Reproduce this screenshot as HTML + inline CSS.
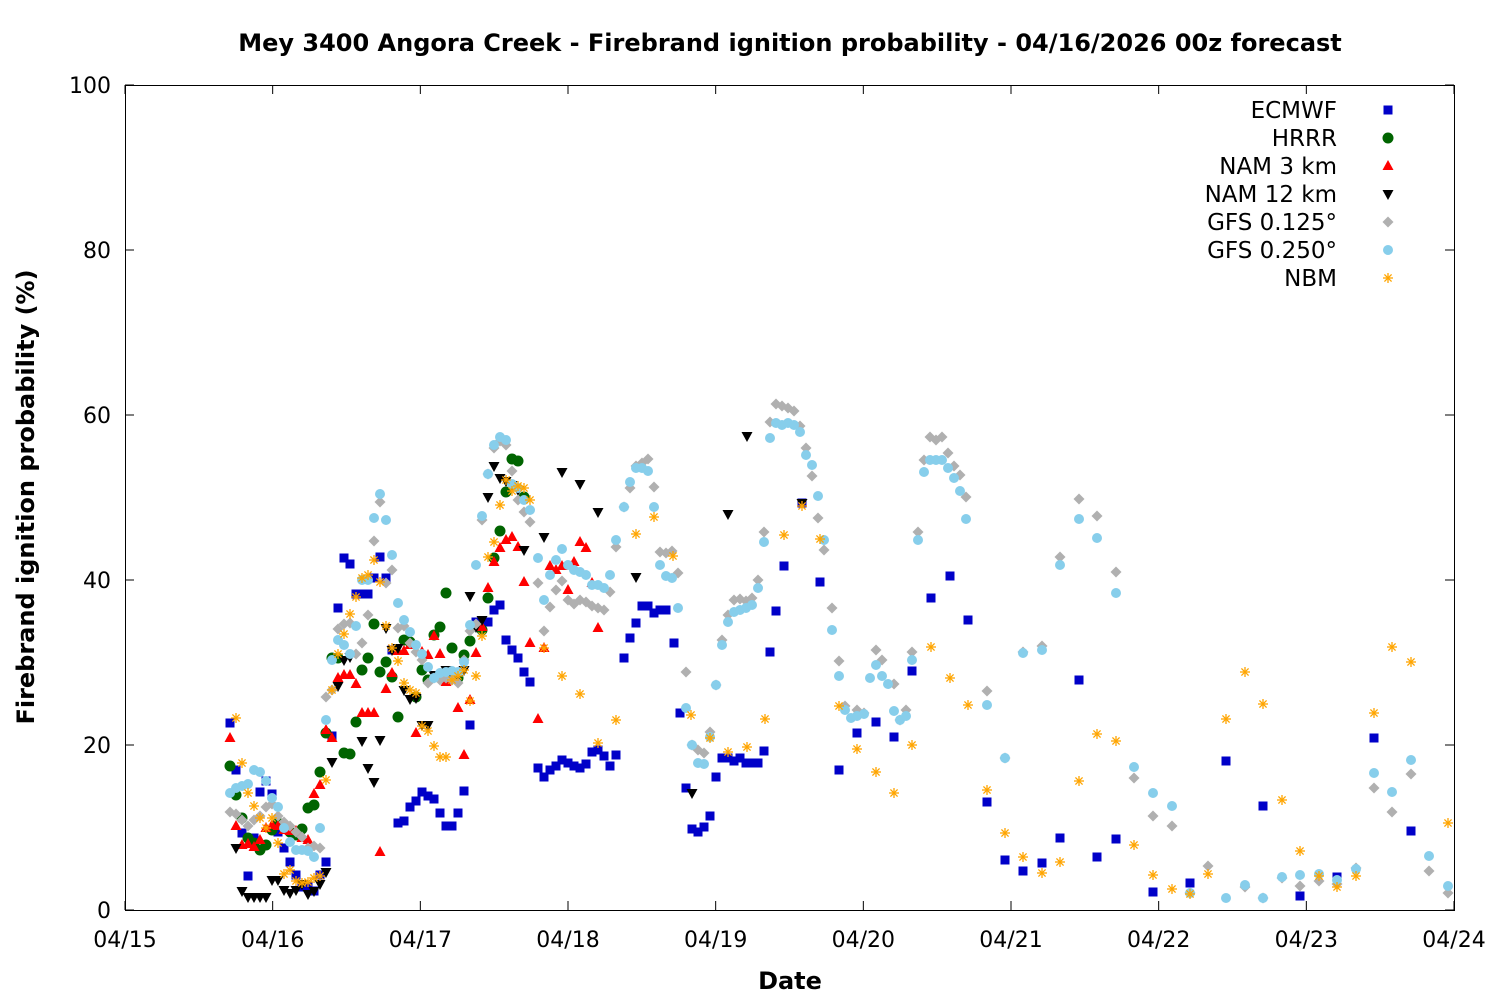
<!DOCTYPE html>
<html><head><meta charset="utf-8"><style>
html,body{margin:0;padding:0;background:#fff;}
svg{display:block;font-family:"Liberation Sans","DejaVu Sans",sans-serif;}
</style></head><body>
<svg id="s" width="1500" height="1000" xmlns="http://www.w3.org/2000/svg">
<rect width="1500" height="1000" fill="#fff"/>
<text x="790" y="51" text-anchor="middle" font-size="24" font-weight="bold" font-family="DejaVu Sans, sans-serif">Mey 3400 Angora Creek - Firebrand ignition probability - 04/16/2026 00z forecast</text>
<text x="790" y="989" text-anchor="middle" font-size="24" font-weight="bold" font-family="DejaVu Sans, sans-serif">Date</text>
<text transform="translate(34,497) rotate(-90)" text-anchor="middle" font-size="24" font-weight="bold" font-family="DejaVu Sans, sans-serif">Firebrand ignition probability (%)</text>
<g id="axes" stroke="#000" stroke-width="1" fill="none"></g>
<g id="labels" font-size="22" font-family="DejaVu Sans, sans-serif"></g>
<g id="pts"></g>
<g id="leg" font-size="23" font-family="DejaVu Sans, sans-serif"></g>
</svg>
<script>
const NS="http://www.w3.org/2000/svg";
function el(t,a,p){const e=document.createElementNS(NS,t);for(const k in a)e.setAttribute(k,a[k]);p.appendChild(e);return e;}
const ax=document.getElementById('axes'),lb=document.getElementById('labels'),pts=document.getElementById('pts'),leg=document.getElementById('leg');
const L=125,R=1454,T=85,B=910;
el('rect',{x:L+.5,y:T+.5,width:R-L,height:B-T},ax);
for(let i=0;i<=5;i++){const y=B-i*(B-T)/5;
 el('line',{x1:L,y1:y,x2:L+9,y2:y},ax);el('line',{x1:R,y1:y,x2:R-9,y2:y},ax);
 const t=el('text',{x:L-14,y:y+8,'text-anchor':'end'},lb);t.textContent=String(i*20);}
const days=['04/15','04/16','04/17','04/18','04/19','04/20','04/21','04/22','04/23','04/24'];
for(let i=0;i<10;i++){const x=L+i*(R-L)/9;
 el('line',{x1:x,y1:B,x2:x,y2:B-9},ax);el('line',{x1:x,y1:T,x2:x,y2:T+9},ax);
 const t=el('text',{x:x,y:947,'text-anchor':'middle'},lb);t.textContent=days[i];}
function P(s){return s.match(/\d+,\d+/g).map(v=>v.split(',').map(Number));}
const S={
ec:P("(230,723),(236,770),(242,833),(248,876),(254,838),(260,792),(266,781),(272,794),(278,832),(284,848),(290,862),(296,875),(302,887),(308,887),(314,891),(320,875),(326,862),(332,736),(338,608),(344,558),(350,564),(356,594),(362,594),(368,594),(374,578),(380,557),(386,578),(392,650),(398,823),(404,821),(410,807),(416,801),(422,792),(428,796),(434,799),(440,813),(446,826),(452,826),(458,813),(464,791),(470,725),(476,622),(482,622),(488,622),(494,610),(500,605),(506,640),(512,650),(518,658),(524,672),(530,682),(538,768),(544,777),(550,770),(556,766),(562,760),(568,763),(574,766),(580,768),(586,764),(592,752),(598,750),(604,756),(610,766),(616,755),(624,658),(630,638),(636,623),(642,606),(648,606),(654,613),(660,610),(666,610),(674,643),(680,713),(686,788),(692,829),(698,832),(704,827),(710,816),(716,777),(722,758),(728,758),(734,761),(740,758),(746,763),(752,763),(758,763),(764,751),(770,652),(776,611),(784,566),(802,503),(820,582),(839,770),(857,733),(876,722),(894,737),(912,671),(931,598),(950,576),(968,620),(987,802),(1005,860),(1023,871),(1042,863),(1060,838),(1079,680),(1097,857),(1116,839),(1153,892),(1190,883),(1226,761),(1263,806),(1300,896),(1337,877),(1374,738),(1411,831)"),
hr:P("(230,766),(236,795),(242,818),(248,838),(254,843),(260,850),(266,845),(272,830),(278,823),(284,826),(290,832),(296,835),(302,829),(308,808),(314,805),(320,772),(326,733),(332,658),(338,658),(344,753),(350,754),(356,722),(362,670),(368,658),(374,624),(380,672),(386,662),(392,677),(398,717),(404,640),(410,642),(416,697),(422,670),(428,680),(434,635),(440,627),(446,593),(452,648),(458,678),(464,655),(470,641),(476,626),(482,630),(488,598),(494,558),(500,531),(506,492),(512,459),(518,461),(524,497)"),
n3:P("(230,738),(236,826),(242,845),(248,844),(254,847),(260,840),(266,828),(272,825),(278,826),(284,830),(290,831),(296,831),(302,838),(308,840),(314,794),(320,785),(326,730),(332,738),(338,678),(344,675),(350,675),(356,684),(362,713),(368,713),(374,713),(380,852),(386,689),(392,673),(398,651),(404,651),(410,645),(416,733),(422,652),(428,655),(434,636),(440,654),(446,682),(452,680),(458,708),(464,755),(470,700),(476,653),(482,627),(488,588),(494,562),(500,548),(506,540),(512,537),(518,547),(524,582),(530,643),(538,719),(544,648),(550,566),(556,570),(562,566),(568,590),(574,562),(580,542),(586,548),(592,583),(598,628)"),
n12:P("(236,848),(242,891),(248,897),(254,897),(260,897),(266,897),(272,880),(278,880),(284,890),(290,893),(296,890),(302,884),(308,894),(314,891),(320,884),(326,872),(332,762),(338,686),(344,660),(350,657),(362,741),(368,768),(374,782),(380,740),(386,628),(392,650),(398,648),(404,690),(410,699),(416,698),(422,725),(428,725),(434,675),(440,676),(446,670),(452,675),(458,675),(464,670),(470,596),(476,627),(482,620),(488,497),(494,466),(500,478),(506,481),(512,485),(518,490),(524,550),(544,537),(562,472),(580,484),(598,512),(636,577),(692,793),(728,514),(747,436),(802,503)"),
g1:P("(230,812),(236,814),(242,820),(248,826),(254,820),(260,816),(266,807),(272,804),(278,816),(284,822),(290,826),(296,832),(302,837),(308,848),(314,846),(320,848),(326,697),(332,690),(338,629),(344,624),(350,623),(356,654),(362,643),(368,615),(374,541),(380,502),(386,583),(392,570),(398,628),(404,626),(410,643),(416,652),(422,660),(428,683),(434,678),(440,680),(446,678),(452,680),(458,683),(464,660),(470,631),(476,624),(482,520),(488,474),(494,448),(500,441),(506,445),(512,471),(518,500),(524,512),(530,522),(538,583),(544,631),(550,607),(556,590),(562,581),(568,600),(574,604),(580,600),(586,602),(592,606),(598,608),(604,610),(610,592),(616,547),(624,507),(630,488),(636,466),(642,463),(648,459),(654,487),(660,552),(666,553),(672,551),(678,573),(686,672),(692,745),(698,750),(704,753),(710,732),(716,685),(722,640),(728,615),(734,600),(740,599),(746,601),(752,598),(758,580),(764,532),(770,422),(776,404),(782,406),(788,408),(794,411),(800,426),(806,448),(812,476),(818,518),(824,550),(832,608),(839,661),(845,706),(857,710),(864,713),(876,650),(882,660),(894,684),(900,720),(906,710),(912,652),(918,532),(924,460),(930,437),(936,440),(942,437),(948,453),(954,466),(960,475),(966,497),(987,691),(1005,758),(1023,652),(1042,646),(1060,557),(1079,499),(1097,516),(1116,572),(1134,778),(1153,816),(1172,826),(1190,893),(1208,866),(1245,887),(1263,898),(1282,878),(1300,886),(1319,881),(1337,884),(1356,868),(1374,788),(1392,812),(1411,774),(1429,871),(1448,893)"),
g2:P("(230,793),(236,788),(242,786),(248,784),(254,770),(260,772),(266,781),(272,798),(278,807),(284,828),(290,842),(296,850),(302,850),(308,851),(314,857),(320,828),(326,720),(332,660),(338,640),(344,645),(350,654),(356,626),(362,580),(368,580),(374,518),(380,494),(386,520),(392,555),(398,603),(404,620),(410,632),(416,645),(422,654),(428,667),(434,678),(440,673),(446,672),(452,671),(458,672),(464,662),(470,625),(476,565),(482,516),(488,474),(494,445),(500,437),(506,440),(512,484),(518,488),(524,500),(530,510),(538,558),(544,600),(550,575),(556,560),(562,549),(568,565),(574,570),(580,572),(586,575),(592,585),(598,585),(604,588),(610,575),(616,540),(624,507),(630,482),(636,468),(642,468),(648,471),(654,507),(660,565),(666,576),(672,578),(678,608),(686,708),(692,745),(698,763),(704,764),(710,737),(716,685),(722,645),(728,622),(734,612),(740,610),(746,608),(752,605),(758,588),(764,542),(770,438),(776,423),(782,425),(788,423),(794,425),(800,432),(806,455),(812,465),(818,496),(824,540),(832,630),(839,676),(845,710),(851,718),(857,716),(864,714),(870,678),(876,665),(882,676),(888,684),(894,711),(900,720),(906,716),(912,660),(918,540),(924,472),(930,460),(936,460),(942,460),(948,468),(954,478),(960,491),(966,519),(987,705),(1005,758),(1023,653),(1042,650),(1060,565),(1079,519),(1097,538),(1116,593),(1134,767),(1153,793),(1172,806),(1190,893),(1226,898),(1245,885),(1263,898),(1282,877),(1300,875),(1319,874),(1337,880),(1356,869),(1374,773),(1392,792),(1411,760),(1429,856),(1448,886)"),
nb:P("(236,718),(242,763),(248,793),(254,806),(260,818),(266,828),(272,818),(278,843),(284,874),(290,870),(296,881),(302,883),(308,882),(314,878),(320,876),(326,780),(332,690),(338,654),(344,634),(350,614),(356,597),(362,578),(368,575),(374,560),(380,582),(386,626),(392,648),(398,661),(404,683),(410,690),(416,693),(422,726),(428,731),(434,746),(440,757),(446,757),(452,680),(458,676),(464,670),(470,701),(476,676),(482,636),(488,557),(494,542),(500,505),(506,480),(512,491),(518,486),(524,488),(530,500),(544,648),(562,676),(580,694),(598,743),(616,720),(636,534),(654,517),(673,556),(691,715),(710,738),(728,752),(747,747),(765,719),(784,535),(802,506),(820,539),(839,706),(857,749),(876,772),(894,793),(912,745),(931,647),(950,678),(968,705),(987,790),(1005,833),(1023,857),(1042,873),(1060,862),(1079,781),(1097,734),(1116,741),(1134,845),(1153,875),(1172,889),(1190,894),(1208,874),(1226,719),(1245,672),(1263,704),(1282,800),(1300,851),(1319,876),(1337,887),(1356,876),(1374,713),(1392,647),(1411,662),(1448,823)")
};
const M={
ec:(x,y,g)=>el('rect',{x:x-4.5,y:y-4.5,width:9,height:9,fill:'#0000c8'},g),
hr:(x,y,g)=>el('circle',{cx:x,cy:y,r:5.5,fill:'#006400'},g),
n3:(x,y,g)=>el('polygon',{points:`${x},${y-6} ${x-5.5},${y+4} ${x+5.5},${y+4}`,fill:'#f00'},g),
n12:(x,y,g)=>el('polygon',{points:`${x},${y+6} ${x-5.5},${y-4} ${x+5.5},${y-4}`,fill:'#000'},g),
g1:(x,y,g)=>el('polygon',{points:`${x},${y-5.5} ${x+5.5},${y} ${x},${y+5.5} ${x-5.5},${y}`,fill:'#b0b0b0'},g),
g2:(x,y,g)=>el('circle',{cx:x,cy:y,r:5,fill:'#87ceeb'},g),
nb:(x,y,g)=>{const a={stroke:'#ffa500','stroke-width':1.3};
 el('line',Object.assign({x1:x-5,y1:y,x2:x+5,y2:y},a),g);el('line',Object.assign({x1:x,y1:y-5,x2:x,y2:y+5},a),g);
 el('line',Object.assign({x1:x-3.6,y1:y-3.6,x2:x+3.6,y2:y+3.6},a),g);el('line',Object.assign({x1:x-3.6,y1:y+3.6,x2:x+3.6,y2:y-3.6},a),g);}
};
const order=['ec','hr','n3','n12','g1','g2','nb'];
const names=['ECMWF','HRRR','NAM 3 km','NAM 12 km','GFS 0.125°','GFS 0.250°','NBM'];
order.forEach((k,i)=>{S[k].forEach(p=>M[k](p[0],p[1],pts));
 const y=110+i*28;const t=el('text',{x:1337,y:y+8,'text-anchor':'end'},leg);t.textContent=names[i];M[k](1388,y,leg);});
</script>
</body></html>
